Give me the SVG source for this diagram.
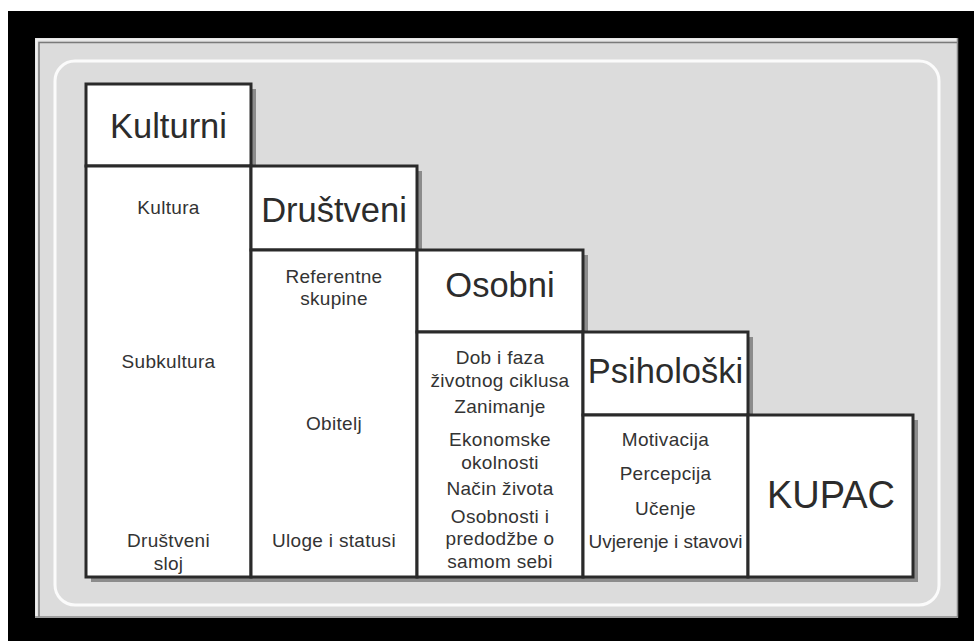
<svg xmlns="http://www.w3.org/2000/svg" width="974" height="641" viewBox="0 0 974 641">
<style>
.box{fill:#ffffff;stroke:#2a2a2a;stroke-width:3}
.hd{font-family:"Liberation Sans",Arial,sans-serif;font-size:34.5px;fill:#2c2c2c;text-anchor:middle}
.kp{font-family:"Liberation Sans",Arial,sans-serif;font-size:38px;fill:#2c2c2c;text-anchor:middle}
.t{font-family:"Liberation Sans",Arial,sans-serif;font-size:19px;fill:#333333;text-anchor:middle;letter-spacing:0.3px}
</style>
<rect x="0" y="0" width="974" height="641" fill="#ffffff"/>
<rect x="8" y="11" width="966" height="630" fill="#000000"/>
<rect x="35" y="38" width="923" height="580" fill="#dcdcdc"/>
<path d="M36.5 617 V39.5 H957" fill="none" stroke="#eeeeee" stroke-width="2"/>
<path d="M39 617 V42.5 H957" fill="none" stroke="#7a7a7a" stroke-width="1.5"/>
<path d="M35 617 H957.5 V38" fill="none" stroke="#8a8a8a" stroke-width="1.5"/>
<rect x="55" y="61" width="884" height="544" rx="20" ry="20" fill="none" stroke="#fbfbfb" stroke-width="3"/>
<polygon points="91,89 256,89 256,171 422,171 422,255 588,255 588,337 753,337 753,420 918,420 918,582 91,582" fill="#8c8c8c"/>
<g id="kulturni">
<rect class="box" x="86" y="84" width="165" height="82"/>
<rect class="box" x="86" y="166" width="165" height="411"/>
<text class="hd" x="168.5" y="138">Kulturni</text>
<text class="t" x="168.5" y="214">Kultura</text>
<text class="t" x="168.5" y="368">Subkultura</text>
<text class="t" x="168.5" y="547">Društveni</text>
<text class="t" x="168.5" y="570">sloj</text>
</g>
<g id="drustveni">
<rect class="box" x="251" y="166" width="166" height="84"/>
<rect class="box" x="251" y="250" width="166" height="327"/>
<text class="hd" x="334" y="222">Društveni</text>
<text class="t" x="334" y="283">Referentne</text>
<text class="t" x="334" y="305">skupine</text>
<text class="t" x="334" y="430">Obitelj</text>
<text class="t" x="334" y="547">Uloge i statusi</text>
</g>
<g id="osobni">
<rect class="box" x="417" y="250" width="166" height="82"/>
<rect class="box" x="417" y="332" width="166" height="245"/>
<text class="hd" x="500" y="297">Osobni</text>
<text class="t" x="500" y="364">Dob i faza</text>
<text class="t" x="500" y="387">životnog ciklusa</text>
<text class="t" x="500" y="413">Zanimanje</text>
<text class="t" x="500" y="446">Ekonomske</text>
<text class="t" x="500" y="469">okolnosti</text>
<text class="t" x="500" y="495">Način života</text>
<text class="t" x="500" y="523">Osobnosti i</text>
<text class="t" x="500" y="545">predodžbe o</text>
<text class="t" x="500" y="568">samom sebi</text>
</g>
<g id="psiholoski">
<rect class="box" x="583" y="332" width="165" height="83"/>
<rect class="box" x="583" y="415" width="165" height="162"/>
<text class="hd" x="665.5" y="383">Psihološki</text>
<text class="t" x="665.5" y="446">Motivacija</text>
<text class="t" x="665.5" y="480">Percepcija</text>
<text class="t" x="665.5" y="515">Učenje</text>
<text class="t" x="665.5" y="548" style="letter-spacing:0">Uvjerenje i stavovi</text>
</g>
<g id="kupac">
<rect class="box" x="748" y="415" width="165" height="162"/>
<text class="kp" x="831" y="508">KUPAC</text>
</g>
<g id="connectors"/>
</svg>
